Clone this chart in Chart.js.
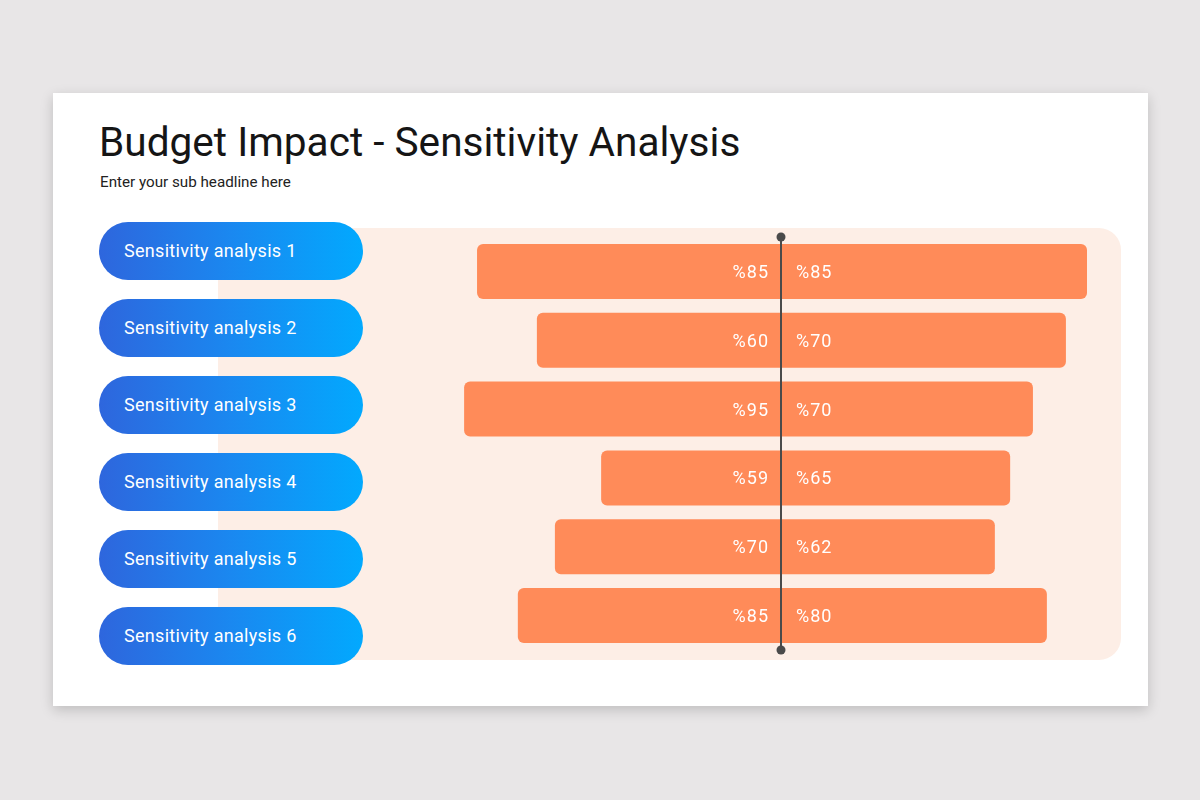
<!DOCTYPE html>
<html>
<head>
<meta charset="utf-8">
<script src="https://cdn.jsdelivr.net/npm/chart.js@4/dist/chart.umd.min.js"></script>
<style>
  html,body{margin:0;padding:0;}
  body{width:1200px;height:800px;background:#e8e6e7;position:relative;overflow:hidden;font-family:Roboto,"Noto Sans",sans-serif;}
  #card{position:absolute;left:53px;top:93px;width:1095px;height:613px;background:#fff;box-shadow:0 4px 12px rgba(0,0,0,0.18);}
  #title{position:absolute;left:99px;top:116px;font-size:40.6px;color:#151515;white-space:nowrap;line-height:52px;}
  #sub{position:absolute;left:100px;top:172px;font-size:15.2px;color:#222;white-space:nowrap;line-height:20px;}
  #panel{position:absolute;left:218px;top:228px;width:903px;height:432px;background:#fdeee6;border-radius:0 22px 22px 0;}
  .pill{position:absolute;left:99px;width:264px;height:58px;border-radius:29px;background:linear-gradient(90deg,#2e66dd 0%,#1a88f0 50%,#02a9fe 100%);color:#fff;font-size:18px;letter-spacing:0.3px;line-height:58px;box-sizing:border-box;padding-left:25px;white-space:nowrap;}
  #chartBox{position:absolute;left:431px;top:227px;width:700px;height:433px;}
</style>
</head>
<body>
<div id="card"></div>
<div id="title">Budget Impact - Sensitivity Analysis</div>
<div id="sub">Enter your sub headline here</div>
<div id="panel"></div>
<div id="pills"></div>
<div id="chartBox"><canvas id="c"></canvas></div>
<script>
// Category names
const categories = ["Sensitivity analysis 1","Sensitivity analysis 2","Sensitivity analysis 3","Sensitivity analysis 4","Sensitivity analysis 5","Sensitivity analysis 6"];
// Printed values on the bars
const leftLabels  = [85, 60, 95, 59, 70, 85];
const rightLabels = [85, 70, 70, 65, 62, 80];
// Bar extents as drawn in the picture (same units as the axis, -100..100)
const leftBars  = [89.4, 71.8, 93.2, 52.9, 66.5, 77.4];
const rightBars = [90.0, 83.8, 74.1, 67.4, 62.9, 78.2];

// pills (HTML)
const pillTops = [222, 299, 376, 453, 530, 607];
const pillsEl = document.getElementById('pills');
categories.forEach((c,i)=>{
  const d = document.createElement('div');
  d.className = 'pill';
  d.style.top = pillTops[i] + 'px';
  d.textContent = c;
  pillsEl.appendChild(d);
});

const centerLine = {
  id:'centerLine',
  afterDatasetsDraw(chart){
    const {ctx, chartArea, scales} = chart;
    const x = Math.round(scales.x.getPixelForValue(0));
    ctx.save();
    ctx.strokeStyle = '#4a4a4a';
    ctx.lineWidth = 2;
    ctx.beginPath();
    ctx.moveTo(x, chartArea.top);
    ctx.lineTo(x, chartArea.bottom);
    ctx.stroke();
    ctx.fillStyle = '#4a4a4a';
    [chartArea.top, chartArea.bottom].forEach(y=>{
      ctx.beginPath(); ctx.arc(x, y, 4.5, 0, Math.PI*2); ctx.fill();
    });
    // labels
    ctx.fillStyle = '#ffffff';
    ctx.font = '18px Roboto, sans-serif';
    if ('letterSpacing' in ctx) ctx.letterSpacing = '1px';
    ctx.textBaseline = 'middle';
    const m0 = chart.getDatasetMeta(0), m1 = chart.getDatasetMeta(1);
    m0.data.forEach((bar,i)=>{
      ctx.textAlign = 'right';
      ctx.fillText('%' + leftLabels[i], x - 12, bar.y + 2);
    });
    m1.data.forEach((bar,i)=>{
      ctx.textAlign = 'left';
      ctx.fillText('%' + rightLabels[i], x + 15, bar.y + 2);
    });
    ctx.restore();
  }
};

new Chart(document.getElementById('c'), {
  type:'bar',
  data:{
    labels: categories,
    datasets:[
      {data:leftBars.map(v=>-v), backgroundColor:'#ff8b59', borderRadius:6, borderSkipped:'start'},
      {data:rightBars, backgroundColor:'#ff8b59', borderRadius:6, borderSkipped:'start'}
    ]
  },
  options:{
    indexAxis:'y',
    responsive:true,
    maintainAspectRatio:false,
    animation:false,
    layout:{padding:{left:10,right:10,top:10,bottom:10}},
    datasets:{bar:{categoryPercentage:1, barPercentage:0.8}},
    plugins:{legend:{display:false}, tooltip:{enabled:false}},
    scales:{
      x:{stacked:true, min:-100, max:100, display:false},
      y:{stacked:true, display:false}
    }
  },
  plugins:[centerLine]
});
</script>
</body>
</html>
